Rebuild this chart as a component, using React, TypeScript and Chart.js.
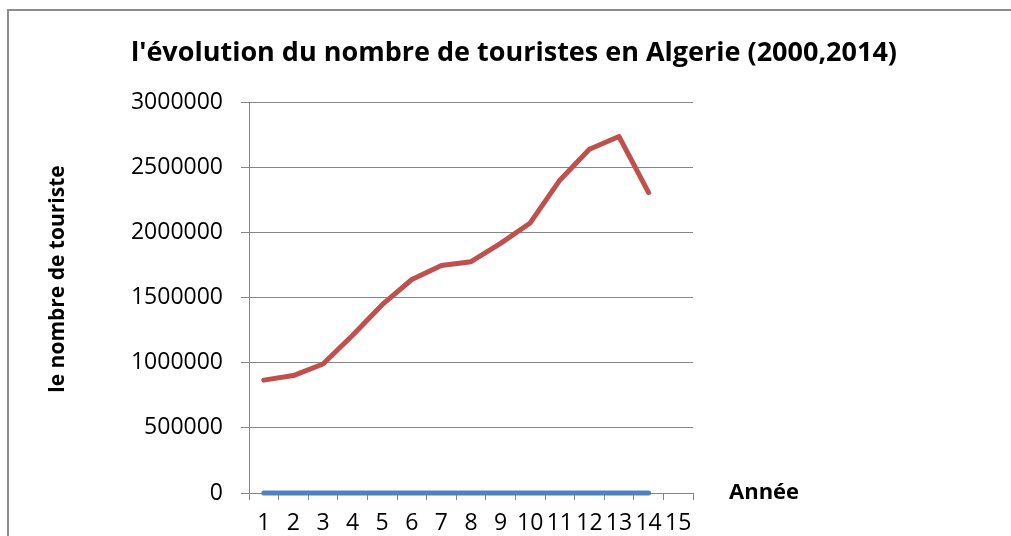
import React, { useEffect, useRef } from "react";
import { Chart, registerables } from "chart.js";

Chart.register(...registerables);

// ---- data ----
const categories = ["1", "2", "3", "4", "5", "6", "7", "8", "9", "10", "11", "12", "13", "14", "15"];
const touristes = [866000, 901000, 990000, 1210000, 1445000, 1638000, 1745000, 1775000, 1915000, 2072000, 2400000, 2638000, 2735000, 2305000];
const serieBleue = [0, 0, 0, 0, 0, 0, 0, 0, 0, 0, 0, 0, 0, 0];
const yMin = 0;
const yMax = 3000000;
const yStep = 500000;

const titre = "l'évolution du nombre de touristes en Algerie (2000,2014)";
const titreY = "le nombre de touriste";
const titreX = "Année";

const FONT = "'Open Sans', 'DejaVu Sans', sans-serif";
const GRID = "#868686";

const decorPlugin = {
  id: "decor",
  beforeDraw(chart: any) {
    const ctx = chart.ctx;
    ctx.save();
    ctx.fillStyle = "#ffffff";
    ctx.fillRect(0, 0, chart.width, chart.height);
    ctx.strokeStyle = "#8c8c8c";
    ctx.lineWidth = 2;
    ctx.beginPath();
    ctx.moveTo(8, chart.height + 5);
    ctx.lineTo(8, 10);
    ctx.lineTo(chart.width + 5, 10);
    ctx.stroke();
    ctx.restore();
  },
  afterDraw(chart: any) {
    const ctx = chart.ctx;
    const area = chart.chartArea;
    const yScale = chart.scales.y;
    ctx.save();
    ctx.fillStyle = "#000000";
    // main title
    ctx.font = `bold 27px ${FONT}`;
    ctx.textAlign = "center";
    ctx.textBaseline = "middle";
    ctx.fillText(titre, 514, 53);
    // x axis title (right of axis, at zero level)
    ctx.font = `bold 22px ${FONT}`;
    ctx.textAlign = "left";
    ctx.fillText(titreX, area.right + 36, yScale.getPixelForValue(0));
    // y axis title
    ctx.translate(58, 279);
    ctx.rotate(-Math.PI / 2);
    ctx.textAlign = "center";
    ctx.font = `bold 21px ${FONT}`;
    ctx.fillText(titreY, 0, 0);
    ctx.restore();
  },
};

export default function App() {
  const canvasRef = useRef<HTMLCanvasElement | null>(null);

  useEffect(() => {
    if (!canvasRef.current) return;
    const chart = new Chart(canvasRef.current, {
      type: "line",
      data: {
        labels: categories,
        datasets: [
          {
            label: "Série bleue",
            data: serieBleue,
            borderColor: "#4F81BD",
            backgroundColor: "#4F81BD",
            borderWidth: 5,
            pointRadius: 0,
            borderCapStyle: "round",
            borderJoinStyle: "round",
            tension: 0,
            clip: false,
          },
          {
            label: "Touristes",
            data: touristes,
            borderColor: "#C0504D",
            backgroundColor: "#C0504D",
            borderWidth: 5,
            pointRadius: 0,
            borderCapStyle: "round",
            borderJoinStyle: "round",
            tension: 0,
            clip: false,
          },
        ],
      },
      options: {
        animation: false,
        responsive: true,
        maintainAspectRatio: false,
        layout: { padding: { left: 0, top: 102, right: 318, bottom: 0 } },
        plugins: {
          legend: { display: false },
          tooltip: { enabled: false },
          title: { display: false },
        },
        scales: {
          x: {
            type: "category",
            offset: true,
            grid: {
              offset: true,
              drawOnChartArea: false,
              drawTicks: true,
              tickLength: 7,
              color: GRID,
              lineWidth: 1,
            },
            border: { display: true, color: GRID, width: 1 },
            ticks: {
              color: "#000000",
              font: { family: FONT, size: 23 },
              padding: 10,
              maxRotation: 0,
              autoSkip: false,
            },
            afterFit: (s: any) => {
              s.height = 43;
            },
          },
          y: {
            min: yMin,
            max: yMax,
            grid: { color: GRID, lineWidth: 1, tickLength: 8, drawTicks: true },
            border: { display: true, color: GRID, width: 1 },
            ticks: {
              stepSize: yStep,
              color: "#000000",
              font: { family: FONT, size: 23 },
              padding: 18,
              callback: (v: any) => String(v),
            },
            afterFit: (s: any) => {
              s.width = 249;
            },
          },
        },
      },
      plugins: [decorPlugin],
    });
    return () => chart.destroy();
  }, []);

  return (
    <div style={{ position: "absolute", left: 0, top: 0, width: 1011, height: 536 }}>
      <canvas ref={canvasRef} />
    </div>
  );
}
